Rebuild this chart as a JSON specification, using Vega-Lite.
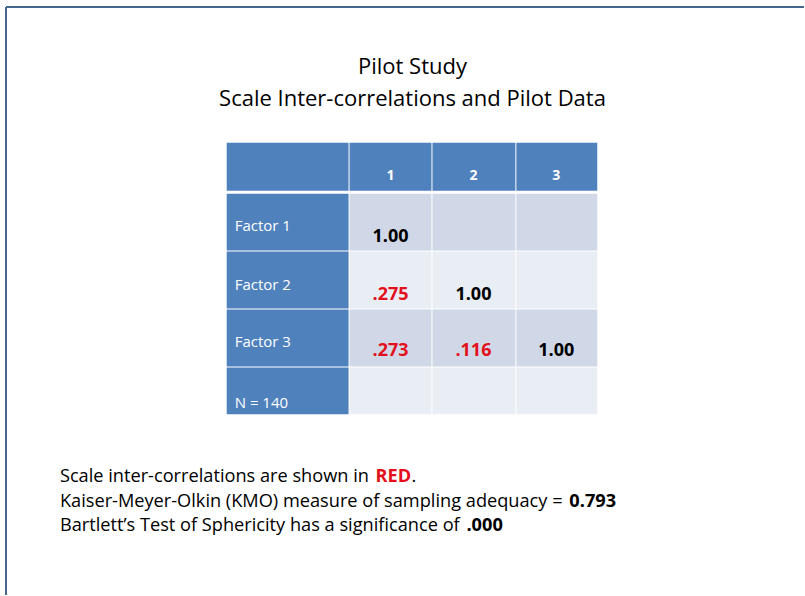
{
  "$schema": "https://vega.github.io/schema/vega-lite/v6.json",
  "width": 805,
  "height": 596,
  "autosize": {"type": "fit", "contains": "padding"},
  "padding": 0,
  "background": "white",
  "config": {"view": {"stroke": null}, "font": "Open Sans"},
  "datasets": {
    "frame": [
      {"x": 6, "y": 7, "x2": 805, "y2": 7},
      {"x": 6, "y": 7, "x2": 6, "y2": 596}
    ],
    "cells": [
      {"x": 227, "x2": 349, "y": 143, "y2": 191, "kind": "dark"},
      {"x": 350, "x2": 432, "y": 143, "y2": 191, "kind": "dark"},
      {"x": 433, "x2": 516, "y": 143, "y2": 191, "kind": "dark"},
      {"x": 517, "x2": 598, "y": 143, "y2": 191, "kind": "dark"},
      {"x": 227, "x2": 349, "y": 194, "y2": 251, "kind": "dark"},
      {"x": 350, "x2": 432, "y": 194, "y2": 251, "kind": "mid"},
      {"x": 433, "x2": 516, "y": 194, "y2": 251, "kind": "mid"},
      {"x": 517, "x2": 598, "y": 194, "y2": 251, "kind": "mid"},
      {"x": 227, "x2": 349, "y": 252, "y2": 309, "kind": "dark"},
      {"x": 350, "x2": 432, "y": 252, "y2": 309, "kind": "light"},
      {"x": 433, "x2": 516, "y": 252, "y2": 309, "kind": "light"},
      {"x": 517, "x2": 598, "y": 252, "y2": 309, "kind": "light"},
      {"x": 227, "x2": 349, "y": 310, "y2": 367, "kind": "dark"},
      {"x": 350, "x2": 432, "y": 310, "y2": 367, "kind": "mid"},
      {"x": 433, "x2": 516, "y": 310, "y2": 367, "kind": "mid"},
      {"x": 517, "x2": 598, "y": 310, "y2": 367, "kind": "mid"},
      {"x": 227, "x2": 349, "y": 368, "y2": 415, "kind": "dark"},
      {"x": 350, "x2": 432, "y": 368, "y2": 415, "kind": "light"},
      {"x": 433, "x2": 516, "y": 368, "y2": 415, "kind": "light"},
      {"x": 517, "x2": 598, "y": 368, "y2": 415, "kind": "light"}
    ],
    "titles": [
      {"label": "Pilot Study", "x": 413, "y": 67},
      {"label": "Scale Inter-correlations and Pilot Data", "x": 413, "y": 99}
    ],
    "headers": [
      {"label": "1", "x": 391, "y": 176},
      {"label": "2", "x": 474, "y": 176},
      {"label": "3", "x": 557, "y": 176}
    ],
    "rowlabels": [
      {"label": "Factor  1", "x": 235, "y": 226},
      {"label": "Factor 2", "x": 235, "y": 285},
      {"label": "Factor 3", "x": 235, "y": 343},
      {"label": "N = 140", "x": 235, "y": 404}
    ],
    "values": [
      {"label": "1.00", "x": 391, "y": 237, "type": "diag"},
      {"label": ".275", "x": 391, "y": 295, "type": "corr"},
      {"label": "1.00", "x": 474, "y": 295, "type": "diag"},
      {"label": ".273", "x": 391, "y": 352, "type": "corr"},
      {"label": ".116", "x": 474, "y": 352, "type": "corr"},
      {"label": "1.00", "x": 557, "y": 352, "type": "diag"}
    ],
    "body": [
      {"label": "Scale inter-correlations are shown in ", "x": 60, "y": 478},
      {"label": ".", "x": 412, "y": 478},
      {"label": "Kaiser-Meyer-Olkin (KMO) measure of sampling adequacy = ", "x": 60, "y": 503},
      {"label": "Bartlett’s Test of Sphericity has a significance of ", "x": 60, "y": 527}
    ],
    "bodybold": [
      {"label": "RED", "x": 376, "y": 478, "type": "corr"},
      {"label": "0.793", "x": 570, "y": 503, "type": "diag"},
      {"label": ".000", "x": 467, "y": 527, "type": "diag"}
    ]
  },
  "layer": [
    {
      "data": {"name": "cells"},
      "mark": {"type": "rect"},
      "encoding": {
        "x": {"field": "x", "type": "quantitative", "scale": {"domain": [0, 805], "nice": false, "zero": false}, "axis": null},
        "x2": {"field": "x2"},
        "y": {"field": "y", "type": "quantitative", "scale": {"domain": [0, 596], "nice": false, "zero": false, "reverse": true}, "axis": null},
        "y2": {"field": "y2"},
        "fill": {"field": "kind", "type": "nominal", "scale": {"domain": ["dark", "mid", "light"], "range": ["#4f81bd", "#d0d8e8", "#e9edf4"]}, "legend": null}
      }
    },
    {
      "data": {"name": "frame"},
      "mark": {"type": "rule", "color": "#46678c", "strokeWidth": 2},
      "encoding": {
        "x": {"field": "x", "type": "quantitative"},
        "x2": {"field": "x2"},
        "y": {"field": "y", "type": "quantitative"},
        "y2": {"field": "y2"}
      }
    },
    {
      "data": {"name": "titles"},
      "mark": {"type": "text", "fontSize": 22, "align": "center", "baseline": "middle", "color": "#000000"},
      "encoding": {
        "x": {"field": "x", "type": "quantitative"},
        "y": {"field": "y", "type": "quantitative"},
        "text": {"field": "label"}
      }
    },
    {
      "data": {"name": "headers"},
      "mark": {"type": "text", "fontSize": 14, "fontWeight": "bold", "align": "center", "baseline": "middle", "color": "#ffffff"},
      "encoding": {
        "x": {"field": "x", "type": "quantitative"},
        "y": {"field": "y", "type": "quantitative"},
        "text": {"field": "label"}
      }
    },
    {
      "data": {"name": "rowlabels"},
      "mark": {"type": "text", "fontSize": 15, "align": "left", "baseline": "middle", "color": "#ffffff"},
      "encoding": {
        "x": {"field": "x", "type": "quantitative"},
        "y": {"field": "y", "type": "quantitative"},
        "text": {"field": "label"}
      }
    },
    {
      "data": {"name": "values"},
      "mark": {"type": "text", "fontSize": 18, "fontWeight": "bold", "align": "center", "baseline": "middle"},
      "encoding": {
        "x": {"field": "x", "type": "quantitative"},
        "y": {"field": "y", "type": "quantitative"},
        "text": {"field": "label"},
        "color": {"field": "type", "type": "nominal", "scale": {"domain": ["diag", "corr"], "range": ["#000000", "#e3101c"]}, "legend": null}
      }
    },
    {
      "data": {"name": "body"},
      "mark": {"type": "text", "fontSize": 18.2, "align": "left", "baseline": "middle", "color": "#000000"},
      "encoding": {
        "x": {"field": "x", "type": "quantitative"},
        "y": {"field": "y", "type": "quantitative"},
        "text": {"field": "label"}
      }
    },
    {
      "data": {"name": "bodybold"},
      "mark": {"type": "text", "fontSize": 18.2, "fontWeight": "bold", "align": "left", "baseline": "middle"},
      "encoding": {
        "x": {"field": "x", "type": "quantitative"},
        "y": {"field": "y", "type": "quantitative"},
        "text": {"field": "label"},
        "color": {"field": "type", "type": "nominal", "scale": {"domain": ["diag", "corr"], "range": ["#000000", "#e3101c"]}, "legend": null}
      }
    }
  ]
}
